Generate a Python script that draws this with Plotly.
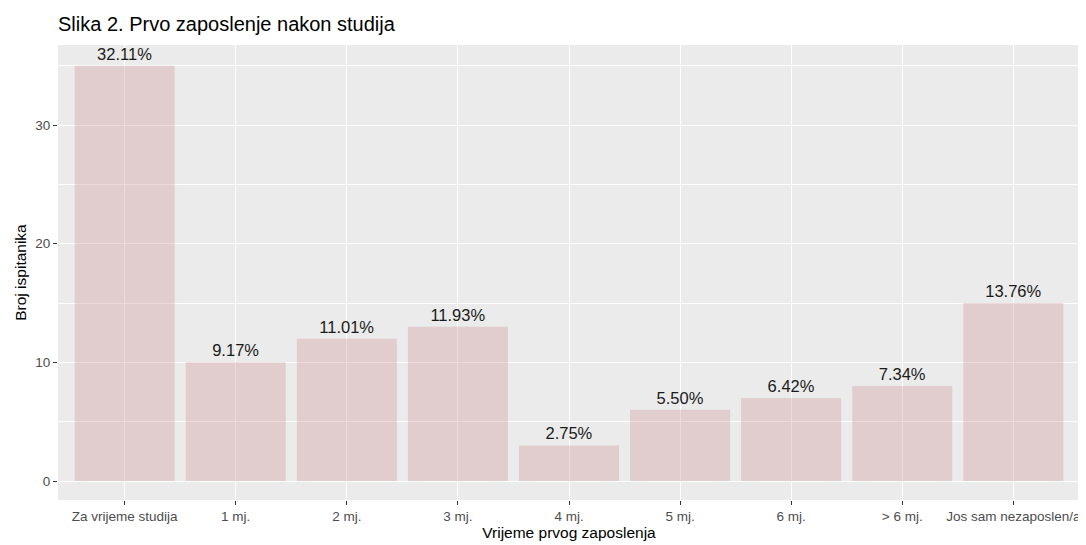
import plotly.graph_objects as go

categories = ["Za vrijeme studija", "1 mj.", "2 mj.", "3 mj.", "4 mj.", "5 mj.", "6 mj.", "> 6 mj.", "Jos sam nezaposlen/a"]
counts = [35, 10, 12, 13, 3, 6, 7, 8, 15]
labels = ["32.11%", "9.17%", "11.01%", "11.93%", "2.75%", "5.50%", "6.42%", "7.34%", "13.76%"]

fig = go.Figure()
fig.add_trace(go.Bar(
    x=categories, y=counts, text=labels, width=0.9,
    marker=dict(color="rgba(205,150,150,0.35)", line=dict(width=0)),
    textposition="outside", cliponaxis=False,
    textfont=dict(family="Liberation Sans, Arial, sans-serif", size=16.5, color="#1a1a1a"),
    hoverinfo="skip",
))

fig.update_layout(
    width=1078, height=537,
    margin=dict(l=50, r=6, t=37, b=45),
    paper_bgcolor="white", plot_bgcolor="#EBEBEB",
    font=dict(family="Liberation Sans, Arial, sans-serif"),
    title=dict(text="Slika 2. Prvo zaposlenje nakon studija", x=0.0, xref="paper", xanchor="left",
               y=0.970, yref="container", yanchor="middle",
               font=dict(size=20, color="black")),
    showlegend=False,
    bargap=0.1,
)
fig.update_xaxes(
    range=[-0.6, 8.6], showgrid=True, gridcolor="white", gridwidth=1.2,
    ticks="outside", ticklen=4, tickcolor="#333333", tickwidth=1,
    tickfont=dict(size=13.5, color="#4D4D4D"),
    title=dict(text="Vrijeme prvog zaposlenja", font=dict(size=15.5, color="black"), standoff=2),
    zeroline=False, showline=False,
)
fig.update_yaxes(
    range=[-1.6, 36.75], dtick=10, tick0=0, showgrid=True, gridcolor="white", gridwidth=1.2,
    minor=dict(dtick=10, tick0=5, showgrid=True, gridcolor="white", gridwidth=0.6, ticks=""),
    ticks="outside", ticklen=4, tickcolor="#333333", tickwidth=1,
    tickfont=dict(size=13.5, color="#4D4D4D"),
    title=dict(text="Broj ispitanika", font=dict(size=15.5, color="black"), standoff=4),
    zeroline=False, showline=False,
)

fig.write_html("out.html")
